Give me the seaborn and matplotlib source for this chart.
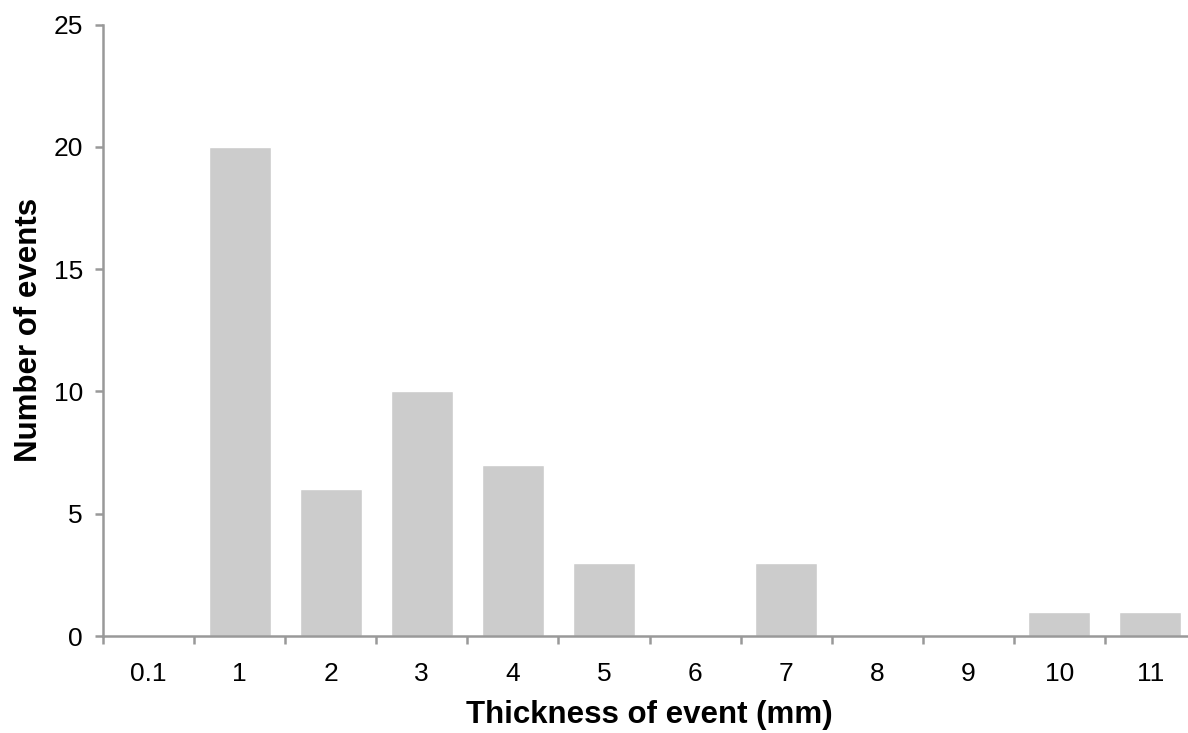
import matplotlib.pyplot as plt
import seaborn as sns
import pandas as pd

thickness = ['0.1', '1', '2', '3', '4', '5', '6', '7', '8', '9', '10', '11']
events = [0, 20, 6, 10, 7, 3, 0, 3, 0, 0, 1, 1]

df = pd.DataFrame({'thickness': thickness, 'events': events})

sns.set_style('white')
plt.rcParams['font.family'] = ['Liberation Sans', 'DejaVu Sans']
plt.rcParams['text.color'] = 'black'
plt.rcParams['xtick.color'] = 'black'
plt.rcParams['ytick.color'] = 'black'
plt.rcParams['axes.labelcolor'] = 'black'

fig = plt.figure(figsize=(11.88, 7.33), dpi=100)
# axes runs a bit past the right edge, like the original crop
ax = fig.add_axes([103 / 1188, 97 / 733, 1093 / 1188, 611.5 / 733])

sns.barplot(data=df, x='thickness', y='events', order=thickness,
            color='#cccccc', saturation=1, width=0.68, ax=ax)

ax.set_xlim(-0.5, len(thickness) - 0.5)
ax.set_ylim(0, 25)
ax.set_yticks([0, 5, 10, 15, 20, 25])

spine_col = '#999999'
for s in ['top', 'right']:
    ax.spines[s].set_visible(False)
for s in ['left', 'bottom']:
    ax.spines[s].set_color(spine_col)
    ax.spines[s].set_linewidth(1.8)

# excel style ticks between categories
ax.set_xticks([i - 0.5 for i in range(len(thickness) + 1)], minor=True)
ax.tick_params(axis='x', which='minor', length=5.5, width=1.8, color=spine_col,
               direction='out', bottom=True)
ax.tick_params(axis='x', which='major', length=0, labelsize=19, pad=19)
ax.tick_params(axis='y', length=5.5, width=1.8, color=spine_col, direction='out',
               left=True, labelsize=19, pad=9)

ax.set_xlabel('Thickness of event (mm)', fontsize=22.5, fontweight='bold', labelpad=10)
ax.set_ylabel('Number of events', fontsize=22.5, fontweight='bold', labelpad=7)

fig.savefig('out.png', dpi=100)
